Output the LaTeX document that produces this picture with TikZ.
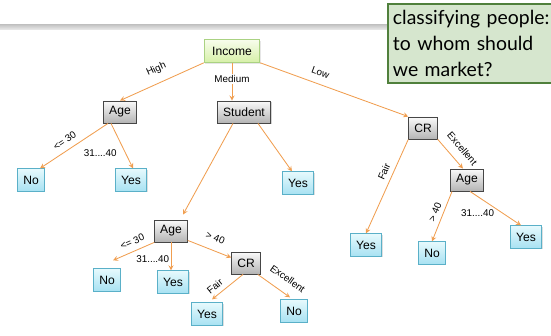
\documentclass[tikz,border=0pt]{standalone}
\usepackage{fontspec}
\setmainfont{Liberation Sans}
\newfontfamily\notefont{Lato}
\usetikzlibrary{positioning,calc,shadows,arrows}
\definecolor{edgeorange}{RGB}{240,158,80}
\definecolor{attrline}{RGB}{70,70,70}
\definecolor{attrtop}{RGB}{250,250,250}
\definecolor{attrbot}{RGB}{180,180,180}
\definecolor{leafline}{RGB}{90,176,200}
\definecolor{leaftop}{RGB}{230,249,253}
\definecolor{leafbot}{RGB}{168,226,242}
\definecolor{rootline}{RGB}{170,210,130}
\definecolor{roottop}{RGB}{248,253,236}
\definecolor{rootbot}{RGB}{214,240,168}
\definecolor{notefill}{RGB}{214,230,206}
\definecolor{noteline}{RGB}{80,128,60}
\tikzstyle{arrow} = [->,>=stealth,draw=edgeorange,line width=0.6pt]

\begin{document}
\begin{tikzpicture}[x=0.025cm,y=-0.025cm,
    every node/.style={font=\fontsize{8.6}{10}\selectfont},
    attr/.style={rectangle,draw=attrline,line width=0.6pt,top color=attrtop,bottom color=attrbot,
        minimum height=0.55cm,inner xsep=0.14cm,drop shadow={shadow xshift=0.8pt,shadow yshift=-0.8pt,opacity=0.35}},
    leaf/.style={rectangle,draw=leafline,line width=0.6pt,top color=leaftop,bottom color=leafbot,
        minimum height=0.56cm,inner xsep=0.14cm,drop shadow={shadow xshift=0.8pt,shadow yshift=-0.8pt,opacity=0.25}},
    root/.style={rectangle,draw=rootline,line width=0.6pt,top color=roottop,bottom color=rootbot,
        minimum height=0.57cm,inner xsep=0.2cm,drop shadow={shadow xshift=0.8pt,shadow yshift=-0.8pt,opacity=0.2}},
    lab/.style={draw=none,font=\fontsize{7}{8}\selectfont,inner sep=1pt}]
    \useasboundingbox (0,0) rectangle (551,335);

    % header bar and the question
    \fill[top color=gray!50,bottom color=gray!20] (0,24) rectangle (390,29);
    \node (note)[anchor=north west,draw=noteline,line width=1.4pt,fill=notefill,text width=168*0.025cm,
        minimum height=79*0.025cm,align=left,inner xsep=3.5pt,font=\notefont\fontsize{13.8}{18.8}\selectfont]
        at (387,3) {classifying people:\\to whom should\\we market?};

    % the tree
    \node (income)[root] at (232,51) {Income};
    \node (age1)[attr] at (120,112) {Age};
    \node (student)[attr] at (244,112) {Student};
    \node (cr1)[attr] at (423,128) {CR};
    \node (no1)[leaf] at (31,180) {No};
    \node (yes1)[leaf] at (131,180) {Yes};
    \node (yes2)[leaf] at (298,183) {Yes};
    \node (age3)[attr] at (467,180) {Age};
    \node (yes3)[leaf] at (366,245) {Yes};
    \node (no3)[leaf] at (432,253) {No};
    \node (yes4)[leaf] at (526,237) {Yes};
    \node (age2)[attr] at (171,231) {Age};
    \node (no2)[leaf] at (107,280) {No};
    \node (yes5)[leaf] at (173,282) {Yes};
    \node (cr2)[attr] at (246,263) {CR};
    \node (yes6)[leaf] at (207,314) {Yes};
    \node (no4)[leaf] at (294,311) {No};

    % the branches
    \draw[arrow] (income.south west) -- node[lab,sloped,above=5pt,pos=0.5] {High} (age1.north);
    \draw[arrow] (income.south) -- node[lab,fill=white,pos=0.42] {Medium} (income.south |- student.north);
    \draw[arrow] (income.south east) -- node[lab,sloped,above=4.5pt,pos=0.38] {Low} (cr1.north west);
    \draw[arrow] ($(age1.south)+(-12,0)$) -- node[lab,sloped,above=3pt,pos=0.56] {<= 30} ($(no1.north)+(9,0)$);
    \draw[arrow] ($(age1.south)+(-9,0)$) -- node[lab,left=5pt,pos=0.66] {31....40} ($(yes1.north)+(2,0)$);
    \draw[arrow] ($(student.south)+(-11,0)$) -- ($(age2.north)+(12,-5)$);
    \draw[arrow] ($(student.south)+(14,0)$) -- ($(yes2.north)+(-6,0)$);
    \draw[arrow] (cr1.south west) -- node[lab,sloped,above=2.5pt,pos=0.38] {Fair} (yes3.north);
    \draw[arrow] (cr1.south east) -- node[lab,sloped,above=5pt,pos=0.6] {Excellent} ($(age3.north)+(-4,0)$);
    \draw[arrow] ($(age3.south)+(-15,0)$) -- node[lab,sloped,above=2pt,pos=0.47] {> 40} (no3.north);
    \draw[arrow] ($(age3.south)+(3,0)$) -- node[lab,below=8pt,pos=0.15] {31....40} ($(yes4.north)+(-5,0)$);
    \draw[arrow] (age2.south west) -- node[lab,sloped,above=3pt,pos=0.44] {<= 30} ($(no2.north)+(6,-8)$);
    \draw[arrow] (age2.south) -- node[lab,left=0pt,pos=0.6] {31....40} (age2.south |- yes5.north);
    \draw[arrow] ($(age2.south east)+(0,-2)$) -- node[lab,sloped,above=5pt,pos=0.53] {> 40} ($(cr2.north west)+(0,6)$);
    \draw[arrow] ($(cr2.south)+(-3,0)$) -- node[lab,sloped,above=2pt,pos=0.74] {Fair} ($(yes6.north)+(5,-3)$);
    \draw[arrow] ($(cr2.south east)+(-3,0)$) -- node[lab,sloped,above=6pt,pos=0.68] {Excellent} ($(no4.north)+(-4,-2)$);
\end{tikzpicture}
\end{document}
